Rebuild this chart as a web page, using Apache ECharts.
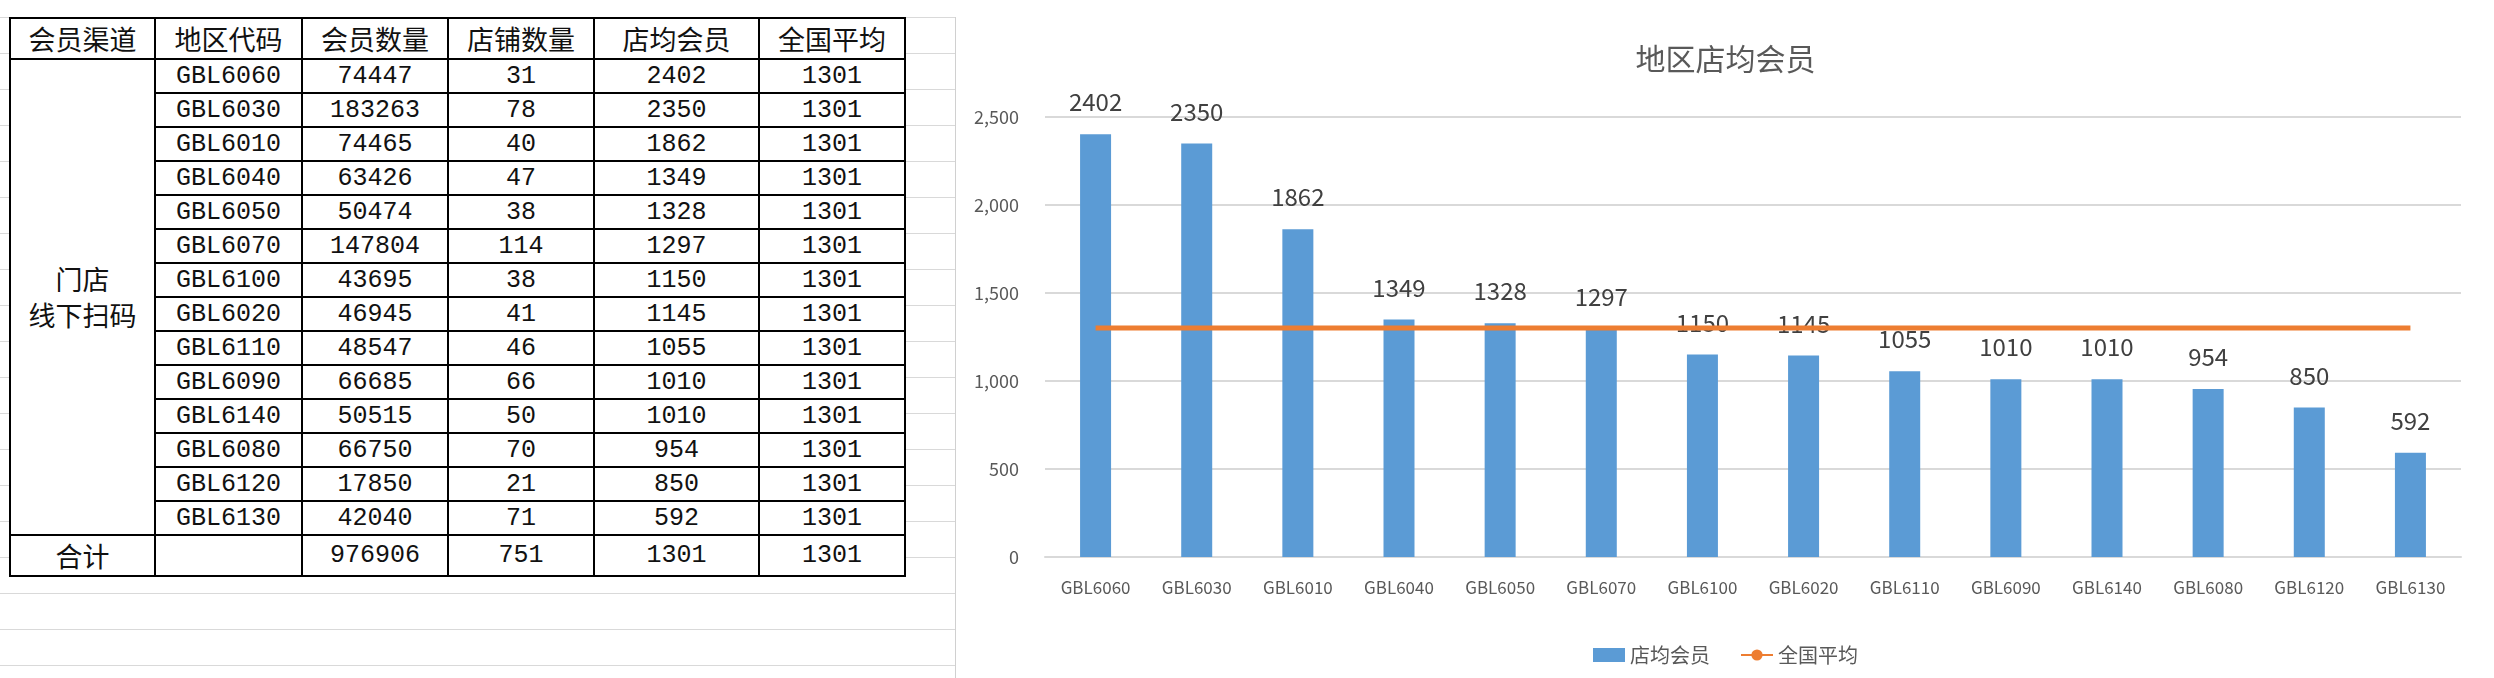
<!DOCTYPE html>
<html><head><meta charset="utf-8">
<script src="https://cdn.jsdelivr.net/npm/echarts@6/dist/echarts.min.js"></script>
<style>
body{margin:0;width:2494px;height:678px;overflow:hidden;background:#fff;
 background-image:linear-gradient(#d9d9d9 1px,transparent 1px);background-size:100% 36px;background-position:0 17px;}
#tbl{position:absolute;left:9px;top:17px;border-collapse:collapse;background:#fff;}
#tbl td{border:2px solid #000;height:32px;padding:0;text-align:center;font-size:25px;
 font-family:"Liberation Mono","Noto Sans CJK SC",monospace;color:#111;}
#tbl .h td{font-family:"Noto Sans CJK SC";font-size:27px;}
#main{position:absolute;left:955px;top:17px;width:1539px;height:661px;background:#fff;border-left:1px solid #d0d0d0;}
</style></head><body>
<table id="tbl"></table>
<div id="main"></div>
<script>
const headers = ['会员渠道','地区代码','会员数量','店铺数量','店均会员','全国平均'];
const regions = ['GBL6060','GBL6030','GBL6010','GBL6040','GBL6050','GBL6070','GBL6100','GBL6020','GBL6110','GBL6090','GBL6140','GBL6080','GBL6120','GBL6130'];
const members = [74447,183263,74465,63426,50474,147804,43695,46945,48547,66685,50515,66750,17850,42040];
const stores = [31,78,40,47,38,114,38,41,46,66,50,70,21,71];
const perStore = [2402,2350,1862,1349,1328,1297,1150,1145,1055,1010,1010,954,850,592];
const nationalAvg = [1301,1301,1301,1301,1301,1301,1301,1301,1301,1301,1301,1301,1301,1301];
const total = ['合计','',976906,751,1301,1301];

const widths = [143,145,144,144,163,144];
let html = '<tr class="h">' + headers.map((h,i)=>`<td style="width:${widths[i]}px">${h}</td>`).join('') + '</tr>';
regions.forEach((r,i)=>{
  html += '<tr>';
  if(i===0) html += `<td rowspan="${regions.length}" style="font-family:'Noto Sans CJK SC';font-size:27px;line-height:36px">门店<br>线下扫码</td>`;
  html += `<td>${r}</td><td>${members[i]}</td><td>${stores[i]}</td><td>${perStore[i]}</td><td>${nationalAvg[i]}</td></tr>`;
});
html += '<tr>' + total.map((v,i)=>`<td${i===0?' style="font-family:\'Noto Sans CJK SC\';font-size:27px"':''}>${v}</td>`).join('') + '</tr>';
document.getElementById('tbl').innerHTML = html;

const chart = echarts.init(document.getElementById('main'));
const font = 'Noto Sans CJK SC';
chart.setOption({
  animation:false,
  title:{text:'地区店均会员',left:'center',top:22,textStyle:{fontFamily:font,fontSize:30,fontWeight:'normal',color:'#595959'}},
  legend:{bottom:8,itemGap:30,textStyle:{fontFamily:font,fontSize:20,color:'#595959'},
    data:[{name:'店均会员',icon:'rect'},{name:'全国平均'}],itemWidth:32,itemHeight:14},
  grid:{left:89,right:34,top:100,bottom:121},
  xAxis:{type:'category',data:regions,axisTick:{show:false},
    axisLine:{lineStyle:{color:'#d9d9d9',width:2}},
    axisLabel:{fontFamily:font,fontSize:17,color:'#595959',margin:22}},
  yAxis:{type:'value',min:0,max:2500,interval:500,
    splitLine:{lineStyle:{color:'#d9d9d9',width:2}},
    axisLabel:{fontFamily:font,fontSize:18,color:'#595959',margin:26}},
  series:[
    {name:'店均会员',type:'bar',data:perStore,barWidth:31,itemStyle:{color:'#5b9bd5'},
     label:{show:true,position:'top',distance:20,fontFamily:font,fontSize:24,color:'#404040'}},
    {name:'全国平均',type:'line',data:nationalAvg,symbol:'none',lineStyle:{color:'#ed7d31',width:5},itemStyle:{color:'#ed7d31'}}
  ]
});
</script></body></html>
